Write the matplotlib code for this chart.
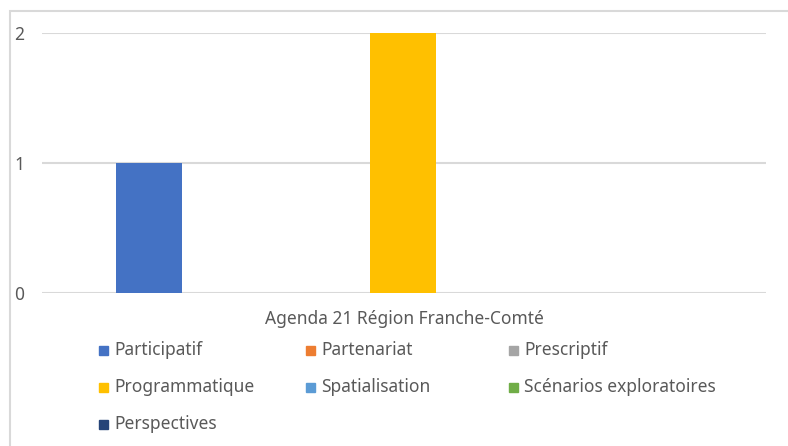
import numpy as np
import matplotlib.pyplot as plt
from matplotlib.patches import Rectangle

plt.rcParams['font.family'] = ['Noto Sans', 'DejaVu Sans']

category = 'Agenda 21 Région Franche-Comté'
series = ['Participatif', 'Partenariat', 'Prescriptif', 'Programmatique',
          'Spatialisation', 'Scénarios exploratoires', 'Perspectives']
values = [1, 0, 0, 2, 0, 0, 0]
colors = ['#4472C4', '#ED7D31', '#A5A5A5', '#FFC000', '#5B9BD5', '#70AD47', '#264478']
# slot of each series inside the category group (None = no bar drawn)
slots = [0, 1, 3, 2, 4, None, None]
yticks = [0, 1, 2]

W, H = 788, 446
fs = 12.5
fig = plt.figure(figsize=(W / 100, H / 100), dpi=100)

# chart frame
fig.patches.append(Rectangle((10 / W, -0.1), 1.2, 1 - 11 / H + 0.1, transform=fig.transFigure,
                             fill=False, edgecolor='#d9d9d9', linewidth=1.5))

ax = fig.add_axes([42 / W, 1 - 293 / H, 724 / W, 260 / H])
step, width = 0.1754, 0.0912
for name, v, c, s in zip(series, values, colors, slots):
    if s is None:
        continue
    ax.bar(0.5 + (s - 2) * step - 0.0014, v, width=width, color=c, zorder=3)

ax.set_xlim(0, 1)
ax.set_ylim(0, 2)
ax.set_yticks(yticks)
ax.set_yticklabels([str(t) for t in yticks], fontsize=fs, color='#595959')
ax.tick_params(axis='y', length=0, pad=13)
ax.set_xticks([0.5])
ax.set_xticklabels([category], fontsize=fs, color='#595959')
ax.tick_params(axis='x', length=0, pad=12)
ax.grid(axis='y', color='#d9d9d9', linewidth=1.5, zorder=0)
for sp in ax.spines.values():
    sp.set_visible(False)

# legend, filled row by row
col_x = [99, 306, 509]
row_y = [350, 387, 424]
for i, (name, c) in enumerate(zip(series, colors)):
    x, y = col_x[i % 3], row_y[i // 3]
    fig.patches.append(Rectangle((x / W, 1 - (y + 4.5) / H), 9 / W, 9 / H,
                                 transform=fig.transFigure, color=c))
    fig.text((x + 15) / W, 1 - y / H, name, fontsize=fs, color='#595959', va='center')

fig.savefig('out.png', dpi=100)
